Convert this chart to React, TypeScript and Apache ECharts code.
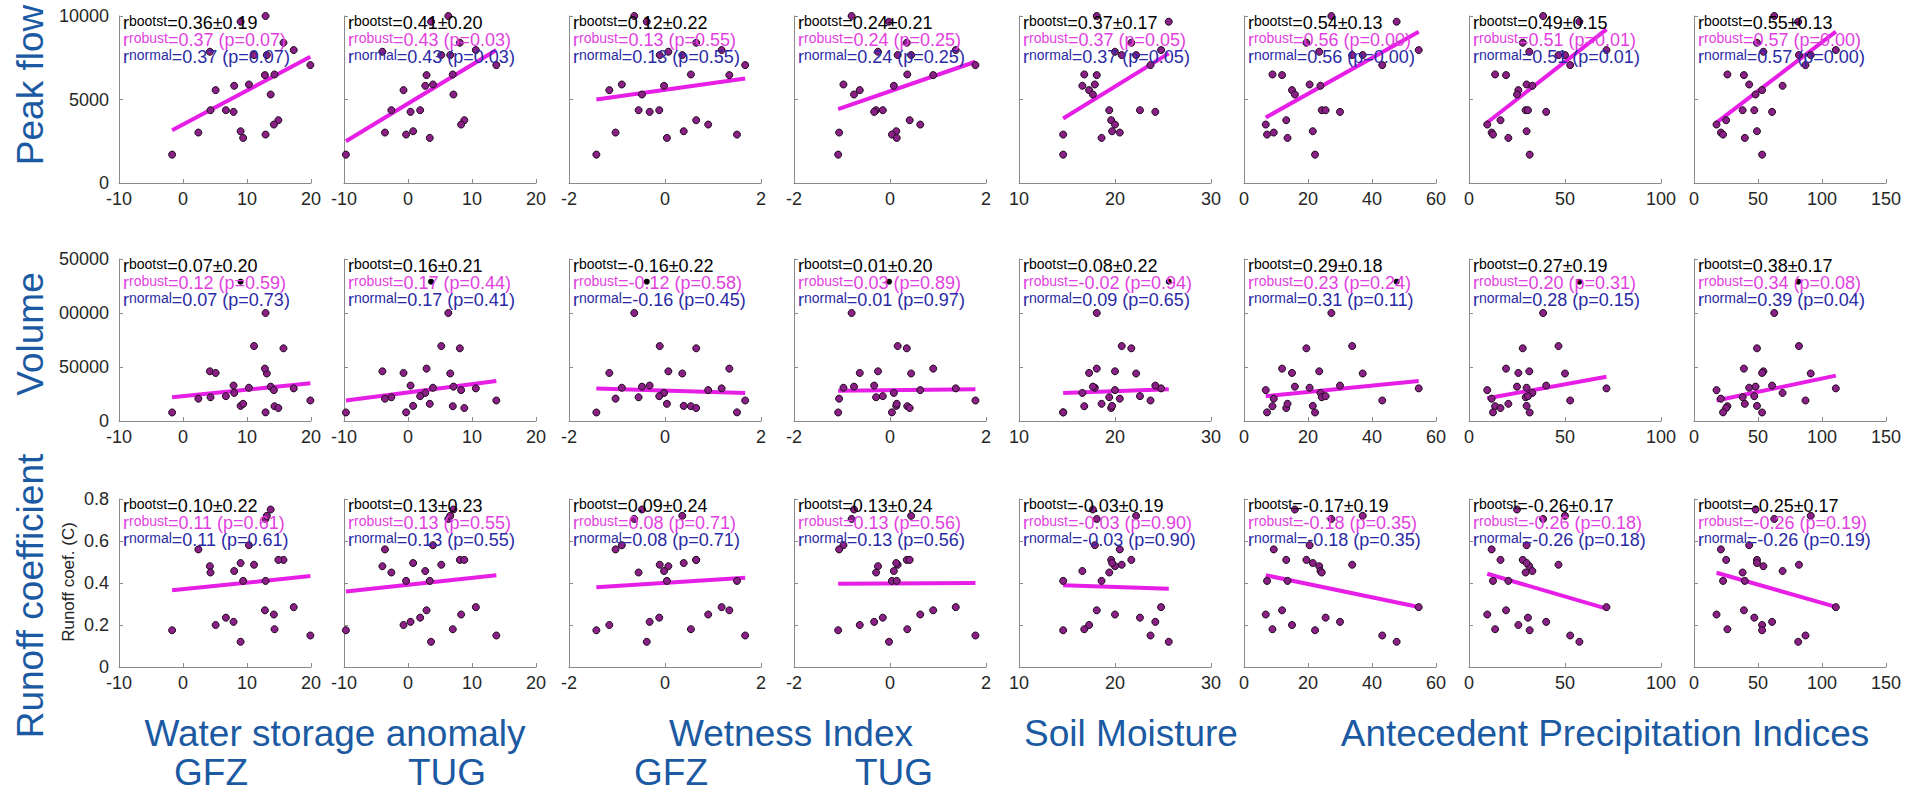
import React, { useEffect, useRef } from "react";
import * as echarts from "echarts";

// ---- event data (one entry per flood event, same order in every array) ----
const peakFlow = [10000, 9660, 8400, 7960, 7860, 7660, 7660, 7060, 6500, 6460, 5900, 5820, 5560, 5300, 4360, 4360, 4260, 3760, 3500, 3100, 3020, 2900, 2700, 1700];
const volume = [100000, 129000, 67300, 30200, 46000, 69400, 44000, 19000, 13700, 48500, 30800, 26000, 44500, 31800, 22000, 23000, 32800, 12000, 28600, 14000, 20700, 8000, 15900, 7900];
const runoffCoef = [0.705, 0.12, 0.51, 0.285, 0.48, 0.487, 0.72, 0.15, 0.18, 0.27, 0.58, 0.457, 0.2, 0.75, 0.45, 0.235, 0.215, 0.51, 0.25, 0.495, 0.56, 0.41, 0.41, 0.175];

const wsaGFZ = [12.9, 9.0, 15.7, 17.3, 4.2, 11.1, 13.1, 19.9, 14.3, 12.8, 10.3, 8.0, 5.1, 13.7, 4.3, 6.7, 7.9, 14.9, 14.2, 9.0, 2.4, 12.9, 9.4, -1.7];
const wsaTUG = [6.3, 3.6, 8.1, 10.6, -4.0, 5.2, 6.6, 13.8, 7.0, 2.9, 3.9, 2.7, -0.7, 7.1, -2.6, 1.9, 0.4, 8.8, 8.3, 0.8, -3.6, -0.3, 3.4, -9.7];
const wetGFZ = [-0.64, -0.38, 0.65, 1.18, 0.07, -0.11, 0.36, 1.67, 0.54, 1.34, -0.9, -0.02, -1.16, -0.48, -0.55, -0.12, -0.32, 0.65, 0.9, 0.39, -1.03, 1.5, 0.04, -1.43];
const wetTUG = [-0.8, -0.02, 0.35, 1.37, -0.25, 0.16, 0.44, 1.78, 0.36, 0.9, -0.97, 0.08, -0.63, -0.75, -0.29, -0.15, -0.33, 0.41, 0.63, 0.13, -1.06, 0.04, 0.14, -1.08];
const soilMoisture = [18.1, 25.6, 21.7, 24.8, 20.0, 20.7, 22.2, 23.7, 16.8, 18.1, 17.9, 16.6, 17.3, 17.7, 19.4, 22.6, 24.2, 19.6, 20.0, 19.7, 20.5, 14.6, 18.6, 14.6];
const apiA = [27.3, 47.7, 19.5, 54.6, 23.5, 33.8, 37.1, 43.2, 8.9, 11.9, 20.5, 23.9, 15.0, 15.9, 24.3, 25.5, 30.0, 13.2, 6.8, 21.5, 9.3, 7.2, 13.6, 22.2];
const apiB = [38.6, 57.5, 28.0, 71.6, 31.4, 46.6, 50.0, 52.7, 13.6, 19.3, 30.0, 33.0, 25.7, 25.0, 29.5, 30.7, 40.2, 16.4, 9.5, 30.0, 11.8, 12.5, 20.5, 31.6];
const apiC = [62.7, 81.4, 49.2, 110.8, 54.2, 82.0, 91.2, 87.1, 26.1, 39.0, 43.1, 69.2, 53.2, 48.1, 38.0, 47.1, 61.0, 25.1, 17.6, 49.2, 21.0, 22.7, 39.7, 53.2];

// event drawn as a small black dot in the volume row
const volumeMarkedEvents = [1];

// ---- axes ----
const xMins = [-10, -10, -2, -2, 10, 0, 0, 0];
const xMaxs = [20, 20, 2, 2, 30, 60, 100, 150];
const xSteps = [10, 10, 2, 2, 10, 20, 50, 50];
const xTickLabels = [
  ["-10", "0", "10", "20"], ["-10", "0", "10", "20"], ["-2", "0", "2"], ["-2", "0", "2"],
  ["10", "20", "30"], ["0", "20", "40", "60"], ["0", "50", "100"], ["0", "50", "100", "150"],
];
const yMaxs = [10000, 150000, 0.8];
const ySteps = [5000, 50000, 0.2];
const yTickLabels = [
  ["0", "5000", "10000"],
  ["0", "50000", "00000", "50000"],
  ["0", "0.2", "0.4", "0.6", "0.8"],
];

// ---- regression lines (value at smallest x, value at largest x) ----
const peakLineStart = [3160, 2500, 5000, 4420, 3860, 3920, 3620, 3620];
const peakLineEnd = [7560, 7960, 6260, 7260, 7760, 9060, 9200, 9060];
const volLineStart = [22000, 19000, 30000, 28000, 26000, 23000, 21000, 19000];
const volLineEnd = [35000, 37000, 26000, 29500, 29500, 37000, 41000, 42000];
const coefLineStart = [0.365, 0.36, 0.38, 0.397, 0.389, 0.437, 0.444, 0.449];
const coefLineEnd = [0.433, 0.437, 0.425, 0.4, 0.373, 0.286, 0.278, 0.286];

// ---- correlation annotations ----
const bootstPeak = ["0.36±0.19", "0.41±0.20", "0.12±0.22", "0.24±0.21", "0.37±0.17", "0.54±0.13", "0.49±0.15", "0.55±0.13"];
const robustPeak = ["0.37 (p=0.07)", "0.43 (p=0.03)", "0.13 (p=0.55)", "0.24 (p=0.25)", "0.37 (p=0.05)", "0.56 (p=0.00)", "0.51 (p=0.01)", "0.57 (p=0.00)"];
const normalPeak = ["0.37 (p=0.07)", "0.43 (p=0.03)", "0.13 (p=0.55)", "0.24 (p=0.25)", "0.37 (p=0.05)", "0.56 (p=0.00)", "0.51 (p=0.01)", "0.57 (p=0.00)"];
const bootstVol = ["0.07±0.20", "0.16±0.21", "-0.16±0.22", "0.01±0.20", "0.08±0.22", "0.29±0.18", "0.27±0.19", "0.38±0.17"];
const robustVol = ["0.12 (p=0.59)", "0.17 (p=0.44)", "-0.12 (p=0.58)", "0.03 (p=0.89)", "-0.02 (p=0.94)", "0.23 (p=0.24)", "0.20 (p=0.31)", "0.34 (p=0.08)"];
const normalVol = ["0.07 (p=0.73)", "0.17 (p=0.41)", "-0.16 (p=0.45)", "0.01 (p=0.97)", "0.09 (p=0.65)", "0.31 (p=0.11)", "0.28 (p=0.15)", "0.39 (p=0.04)"];
const bootstCoef = ["0.10±0.22", "0.13±0.23", "0.09±0.24", "0.13±0.24", "-0.03±0.19", "-0.17±0.19", "-0.26±0.17", "-0.25±0.17"];
const robustCoef = ["0.11 (p=0.61)", "0.13 (p=0.55)", "0.08 (p=0.71)", "0.13 (p=0.56)", "-0.03 (p=0.90)", "-0.18 (p=0.35)", "-0.26 (p=0.18)", "-0.26 (p=0.19)"];
const normalCoef = ["0.11 (p=0.61)", "0.13 (p=0.55)", "0.08 (p=0.71)", "0.13 (p=0.56)", "-0.03 (p=0.90)", "-0.18 (p=0.35)", "-0.26 (p=0.18)", "-0.26 (p=0.19)"];

const rowTitles = ["Peak flow", "Volume", "Runoff coefficient"];
const groupTitles = ["Water storage anomaly", "Wetness Index", "Soil Moisture", "Antecedent Precipitation Indices"];
const sourceTitles = ["GFZ", "TUG", "GFZ", "TUG"];

// ---- layout ----
const LEFT0 = 119;
const DX = 225;
const PW = 192;
const ROW_TOP = [16, 259, 499];
const ROW_H = [167, 162, 168];
const NARROW = "'Liberation Sans Narrow', 'Arial Narrow', 'Liberation Sans', sans-serif";
const WIDE = "'Liberation Sans', Arial, sans-serif";
const BLUE = "#1b5aa2";

export default function App() {
  const ref = useRef<HTMLDivElement>(null);
  useEffect(() => {
    if (!ref.current) return;
    const chart = echarts.init(ref.current, null, { renderer: "svg" });
    const columns = [wsaGFZ, wsaTUG, wetGFZ, wetTUG, soilMoisture, apiA, apiB, apiC];
    const rows = [peakFlow, volume, runoffCoef];
    const lineStarts = [peakLineStart, volLineStart, coefLineStart];
    const lineEnds = [peakLineEnd, volLineEnd, coefLineEnd];
    const bootst = [bootstPeak, bootstVol, bootstCoef];
    const robust = [robustPeak, robustVol, robustCoef];
    const normal = [normalPeak, normalVol, normalCoef];

    const grid: any[] = [];
    const xAxis: any[] = [];
    const yAxis: any[] = [];
    const series: any[] = [];
    const graphic: any[] = [];

    const annLine = (x: number, y: number, sub: string, val: string, color: string) => ({
      type: "text",
      x,
      y,
      z: 50,
      style: {
        text: `{r|r}{s|${sub}}{v|=${val}}`,
        align: "left",
        verticalAlign: "top",
        rich: {
          r: { fontSize: 18, fontFamily: NARROW, fill: color, lineHeight: 18, verticalAlign: "top" },
          s: { fontSize: 14, fontFamily: NARROW, fill: color, lineHeight: 34, verticalAlign: "top" },
          v: { fontSize: 18, fontFamily: NARROW, fill: color, lineHeight: 18, verticalAlign: "top" },
        },
      },
    });

    for (let r = 0; r < 3; r++) {
      for (let c = 0; c < 8; c++) {
        const idx = r * 8 + c;
        const left = LEFT0 + c * DX;
        grid.push({ left, top: ROW_TOP[r], width: PW, height: ROW_H[r] });
        xAxis.push({
          gridIndex: idx,
          type: "value",
          min: xMins[c],
          max: xMaxs[c],
          interval: xSteps[c],
          axisLine: { show: true, onZero: false, lineStyle: { color: "#8a8a8a", width: 1 } },
          axisTick: { show: true, inside: true, length: 4, lineStyle: { color: "#8a8a8a" } },
          splitLine: { show: false },
          axisLabel: {
            show: true,
            margin: 7,
            color: "#262626",
            fontSize: 18,
            fontFamily: NARROW,
            showMinLabel: true,
            showMaxLabel: true,
            hideOverlap: false,
            formatter: (_v: number, i: number) => xTickLabels[c][i] ?? "",
          },
        });
        yAxis.push({
          gridIndex: idx,
          type: "value",
          min: 0,
          max: yMaxs[r],
          interval: ySteps[r],
          axisLine: { show: true, onZero: false, lineStyle: { color: "#8a8a8a", width: 1 } },
          axisTick: { show: true, inside: true, length: 4, lineStyle: { color: "#8a8a8a" } },
          splitLine: { show: false },
          axisLabel: {
            show: c === 0,
            margin: 10,
            color: "#262626",
            fontSize: 18,
            fontFamily: NARROW,
            showMinLabel: true,
            showMaxLabel: true,
            formatter: (_v: number, i: number) => yTickLabels[r][i] ?? "",
          },
        });

        const col = columns[c];
        const yv = rows[r];
        const marked = r === 1 ? volumeMarkedEvents : [];
        const pts: number[][] = [];
        const blackPts: number[][] = [];
        col.forEach((xv, i) => {
          if (marked.includes(i)) blackPts.push([xv, yv[i]]);
          else pts.push([xv, yv[i]]);
        });
        const xlo = Math.min(...col);
        const xhi = Math.max(...col);
        series.push({
          type: "line",
          xAxisIndex: idx,
          yAxisIndex: idx,
          data: [[xlo, lineStarts[r][c]], [xhi, lineEnds[r][c]]],
          symbol: "none",
          silent: true,
          z: 2,
          lineStyle: { color: "#e61ee6", width: 4 },
        });
        series.push({
          type: "scatter",
          xAxisIndex: idx,
          yAxisIndex: idx,
          data: pts,
          symbolSize: 7,
          silent: true,
          z: 3,
          itemStyle: { color: "#8a1f86", borderColor: "#1c0a1c", borderWidth: 1, opacity: 1 },
        });
        if (blackPts.length) {
          series.push({
            type: "scatter",
            xAxisIndex: idx,
            yAxisIndex: idx,
            data: blackPts,
            symbolSize: 6,
            silent: true,
            z: 4,
            itemStyle: { color: "#000", opacity: 1 },
          });
        }

        const tx = left + 4;
        const ty = ROW_TOP[r] - 2;
        graphic.push(annLine(tx, ty, "bootst", bootst[r][c], "#000000"));
        graphic.push(annLine(tx, ty + 17, "robust", robust[r][c], "#e23fe0"));
        graphic.push(annLine(tx, ty + 34, "normal", normal[r][c], "#2a2aa6"));
      }
    }

    const rowCenters = [85, 334, 596];
    rowTitles.forEach((t, i) => {
      graphic.push({
        type: "text",
        x: 30,
        y: rowCenters[i],
        rotation: Math.PI / 2,
        z: 60,
        style: { text: t, fill: BLUE, fontSize: 37, fontFamily: WIDE, align: "center", verticalAlign: "middle" },
      });
    });
    graphic.push({
      type: "text",
      x: 68,
      y: 582,
      rotation: Math.PI / 2,
      z: 60,
      style: { text: "Runoff coef. (C)", fill: "#222", fontSize: 17, fontFamily: WIDE, align: "center", verticalAlign: "middle" },
    });

    const groupX = [335, 791, 1131, 1605];
    groupTitles.forEach((t, i) => {
      graphic.push({
        type: "text",
        x: groupX[i],
        y: 733,
        z: 60,
        style: { text: t, fill: BLUE, fontSize: 37, lineHeight: 32, fontFamily: WIDE, align: "center", verticalAlign: "middle" },
      });
    });
    const srcX = [211, 447, 671, 894];
    sourceTitles.forEach((t, i) => {
      graphic.push({
        type: "text",
        x: srcX[i],
        y: 772,
        z: 60,
        style: { text: t, fill: BLUE, fontSize: 37, lineHeight: 32, fontFamily: WIDE, align: "center", verticalAlign: "middle" },
      });
    });

    chart.setOption({
      animation: false,
      backgroundColor: "#ffffff",
      grid,
      xAxis,
      yAxis,
      series,
      graphic,
    });
    return () => chart.dispose();
  }, []);
  return (
    <div
      ref={ref}
      style={{ position: "fixed", left: 0, top: 0, width: 1905, height: 797, background: "#fff" }}
    />
  );
}
